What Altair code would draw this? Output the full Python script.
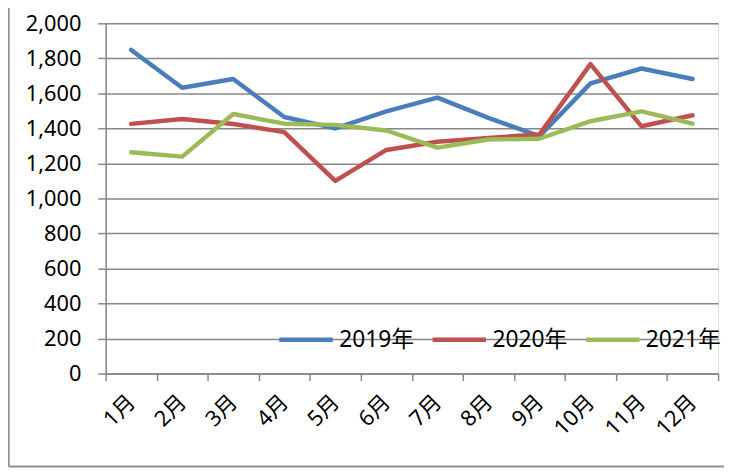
import altair as alt
import pandas as pd

months = ["1月", "2月", "3月", "4月", "5月", "6月", "7月", "8月", "9月", "10月", "11月", "12月"]
s2019 = [1848, 1632, 1682, 1465, 1400, 1497, 1576, 1460, 1356, 1657, 1742, 1682]
s2020 = [1426, 1454, 1425, 1379, 1100, 1277, 1324, 1346, 1366, 1767, 1412, 1475]
s2021 = [1264, 1239, 1482, 1427, 1420, 1388, 1290, 1337, 1341, 1441, 1497, 1427]
series = ["2019年", "2020年", "2021年"]
colors = ["#4A7EBB", "#C0504D", "#9BBB59"]

rows = []
for name, vals in zip(series, [s2019, s2020, s2021]):
    for i, (m, v) in enumerate(zip(months, vals)):
        rows.append({"month": m, "value": v, "series": name, "order": series.index(name)})
df = pd.DataFrame(rows)

FONT = "Noto Sans, Noto Sans CJK SC"
GRAY = "#878787"

lines = alt.Chart(df).mark_line(strokeWidth=4.5, strokeJoin="round", strokeCap="round").encode(
    x=alt.X("month:N", sort=months, title=None,
            scale=alt.Scale(type="band", paddingInner=0, paddingOuter=0),
            axis=alt.Axis(labelAngle=-45, labelAlign="right", labelBaseline="middle",
                          labelPadding=18, tickBand="extent", tickSize=7,
                          tickColor=GRAY, domainColor=GRAY, tickWidth=1.5, domainWidth=1.5,
                          labelFontSize=22, labelFont=FONT, labelColor="#000000", grid=False)),
    y=alt.Y("value:Q", title=None,
            scale=alt.Scale(domain=[0, 2000], nice=False),
            axis=alt.Axis(values=list(range(0, 2001, 200)), format=",.0f", tickSize=8,
                          tickColor=GRAY, domainColor=GRAY, tickWidth=1.5, domainWidth=1.5,
                          gridColor=GRAY, gridWidth=1.5, labelPadding=17,
                          labelFontSize=22, labelFont=FONT, labelColor="#000000")),
    color=alt.Color("series:N", sort=series,
                    scale=alt.Scale(domain=series, range=colors),
                    legend=alt.Legend(title=None, orient="none", legendX=173, legendY=290,
                                      direction="horizontal", symbolType="stroke",
                                      symbolSize=2916, symbolStrokeWidth=4.5,
                                      labelFontSize=23, labelFont=FONT, labelColor="#000000",
                                      labelOffset=4, columnPadding=9)),
    order=alt.Order("order:Q"),
)

border_df = pd.DataFrame({"k": [0]})
left_border = alt.Chart(border_df).mark_rule(color="#8f8f8f", strokeWidth=2).encode(
    x=alt.value(-98), y=alt.value(-30), y2=alt.value(448))
bottom_border = alt.Chart(border_df).mark_rule(color="#8f8f8f", strokeWidth=2).encode(
    x=alt.value(-98), x2=alt.value(640), y=alt.value(448))

chart = alt.layer(lines, left_border, bottom_border).properties(
    width=619, height=354,
    padding={"left": 98.7, "top": 13, "right": 6, "bottom": 97},
    autosize=alt.AutoSizeParams(type="none"),
).configure_view(stroke=None).configure(background="#ffffff")

chart.save("out.html", embed_options={"renderer": "svg", "actions": False})
